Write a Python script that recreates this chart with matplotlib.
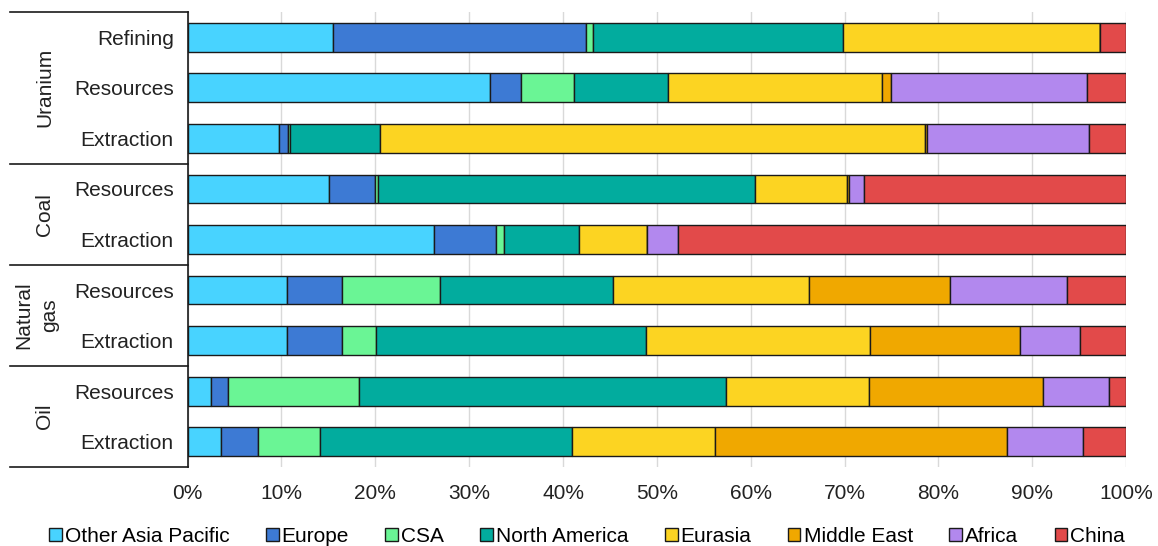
import matplotlib.pyplot as plt
import matplotlib.transforms as mtransforms
import numpy as np

plt.rcParams['font.family'] = ['Liberation Sans', 'DejaVu Sans']

# rows from top to bottom
rows = ["Refining", "Resources", "Extraction",
        "Resources", "Extraction",
        "Resources", "Extraction",
        "Resources", "Extraction"]
groups = ["Uranium", "Coal", "Natural\ngas", "Oil"]
group_sizes = [3, 2, 2, 2]

regions = ["Other Asia Pacific", "Europe", "CSA", "North America",
           "Eurasia", "Middle East", "Africa", "China"]
colors = ["#48D3FF", "#3D7AD4", "#6AF595", "#02AC9E",
          "#FCD422", "#F0A800", "#B288EE", "#E24A4A"]

# shares (%) per region, one value per row
other_asia = [15.5, 32.2, 9.7, 15.1, 26.3, 10.6, 10.6, 2.5, 3.6]
europe = [26.9, 3.3, 1.0, 4.9, 6.6, 5.9, 5.9, 1.8, 3.9]
csa = [0.8, 5.7, 0.2, 0.3, 0.8, 10.4, 3.6, 14.0, 6.6]
north_america = [26.6, 10.0, 9.6, 40.2, 8.0, 18.4, 28.7, 39.1, 26.9]
eurasia = [27.4, 22.8, 58.1, 9.8, 7.2, 20.9, 23.9, 15.2, 15.2]
middle_east = [0.0, 0.9, 0.2, 0.2, 0.0, 15.0, 16.0, 18.5, 31.1]
africa = [0.0, 20.9, 17.2, 1.6, 3.3, 12.5, 6.4, 7.1, 8.1]
china = [2.8, 4.2, 4.0, 27.9, 47.8, 6.3, 4.9, 1.8, 4.6]

series = [other_asia, europe, csa, north_america, eurasia, middle_east, africa, china]

fs = 15

fig = plt.figure(figsize=(11.58, 5.46), dpi=100)
ax = fig.add_axes([0.162, 0.1447, 0.8105, 0.8333])

y = np.arange(len(rows))
left = np.zeros(len(rows))
for name, vals, c in zip(regions, series, colors):
    vals = np.array(vals)
    ax.barh(y, vals, left=left, height=0.57, color=c, edgecolor="#1a1a1a",
            linewidth=1.0, label=name, zorder=3)
    left += vals

ax.set_xlim(0, 100)
ax.set_ylim(len(rows) - 0.5, -0.5)
ax.set_xticks(np.arange(0, 101, 10))
ax.set_xticklabels([f"{v}%" for v in range(0, 101, 10)])
ax.set_yticks(y)
ax.set_yticklabels(rows)
ax.tick_params(axis="both", length=0, labelsize=fs, colors="#222222")
ax.tick_params(axis="y", pad=10)
ax.tick_params(axis="x", pad=12)
ax.grid(axis="x", color="#D9D9D9", linewidth=1, zorder=0)
for s in ["top", "right", "bottom"]:
    ax.spines[s].set_visible(False)
ax.spines["left"].set_color("#1a1a1a")
ax.spines["left"].set_linewidth(1.2)

# group labels and separator lines on the left
trans = mtransforms.blended_transform_factory(ax.transAxes, ax.transData)
x0 = -0.189
edges = np.concatenate([[0], np.cumsum(group_sizes)]) - 0.5
for e in edges:
    ax.plot([x0, 0], [e, e], transform=trans, color="#1a1a1a", lw=1.2,
            clip_on=False)
label_x = [-0.152, -0.152, -0.161, -0.152]
for g, a, b, lx in zip(groups, edges[:-1], edges[1:], label_x):
    ax.text(lx, (a + b) / 2, g, transform=trans, rotation=90,
            ha="center", va="center", fontsize=fs, color="#222222",
            linespacing=1.45)

fig.legend(loc="center", bbox_to_anchor=(0.507, 0.018), ncol=8,
           frameon=False, fontsize=fs, handlelength=0.6, handleheight=0.6,
           handletextpad=0.15, columnspacing=1.75, borderaxespad=0)

fig.savefig("out.png", dpi=100)
